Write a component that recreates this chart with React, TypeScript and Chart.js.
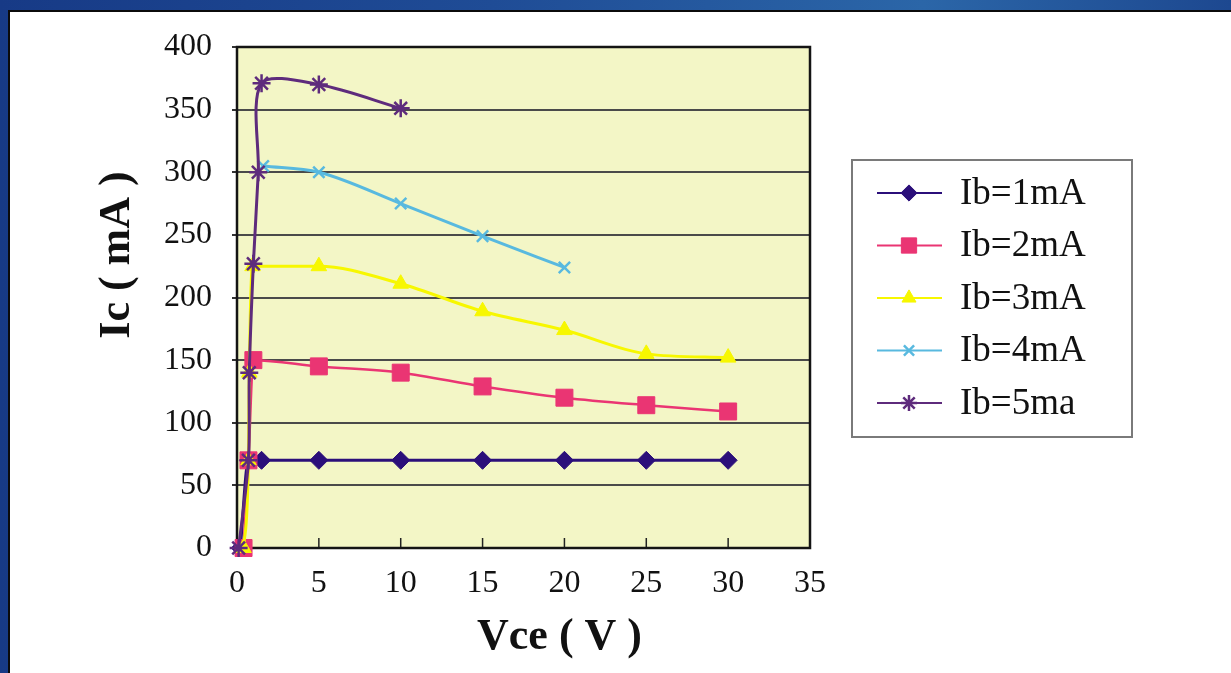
import React, { useEffect, useRef } from "react";
import { Chart, registerables } from "chart.js";
import { drawPoint } from "chart.js/helpers";

Chart.register(...registerables);

// ---- data ----
const seriesNames = ["Ib=1mA", "Ib=2mA", "Ib=3mA", "Ib=4mA", "Ib=5ma"];
const ib1Vce = [0.2, 0.7, 1.5, 5, 10, 15, 20, 25, 30];
const ib1Ic = [0, 70, 70, 70, 70, 70, 70, 70, 70];
const ib2Vce = [0.4, 0.7, 1.0, 5, 10, 15, 20, 25, 30];
const ib2Ic = [0, 70, 150, 145, 140, 129, 120, 114, 109];
const ib3Vce = [0.4, 0.7, 0.75, 0.95, 5, 10, 15, 20, 25, 30];
const ib3Ic = [0, 70, 140, 225, 225, 211, 189, 174, 155, 152];
const ib4Vce = [1.6, 5, 10, 15, 20];
const ib4Ic = [305, 300, 275, 249, 224];
const ib5Vce = [0.1, 0.7, 0.75, 1.0, 1.3, 1.5, 5, 10];
const ib5Ic = [0, 70, 140, 227, 300, 371, 370, 351];
const xTicks = [0, 5, 10, 15, 20, 25, 30, 35];
const yTicks = [0, 50, 100, 150, 200, 250, 300, 350, 400];

const xsList = [ib1Vce, ib2Vce, ib3Vce, ib4Vce, ib5Vce];
const ysList = [ib1Ic, ib2Ic, ib3Ic, ib4Ic, ib5Ic];

const colors = ["#2b0f7a", "#ea3573", "#f7f700", "#58b9df", "#5e2b7c"];
const pointStyles = ["rectRot", "rect", "triangle", "crossRot", "star"];
const pointRadii = [9, 12, 9, 8, 9];
const lineWidths = [3, 2.5, 3, 3, 3];
const pointBorderWidths = [1, 1, 1, 2.5, 2.5];
const interpModes = ["monotone", "monotone", "monotone", "monotone", "default"];
const tensions = [0.4, 0.4, 0.4, 0.4, 0.3];

const FONT = "'Liberation Serif', 'Times New Roman', serif";

const decoPlugin = {
  id: "deco",
  beforeDraw(chart: any) {
    const { ctx, chartArea: a } = chart;
    ctx.save();
    ctx.fillStyle = "#f3f6c6";
    ctx.fillRect(a.left, a.top, a.right - a.left, a.bottom - a.top);
    ctx.restore();
  },
  beforeDatasetsDraw(chart: any) {
    const { ctx, chartArea: a, scales } = chart;
    const xs = scales.x;
    ctx.save();
    ctx.strokeStyle = "#222";
    ctx.lineWidth = 1.5;
    xs.ticks.forEach((t: any) => {
      const px = xs.getPixelForValue(t.value);
      ctx.beginPath();
      ctx.moveTo(px, a.bottom);
      ctx.lineTo(px, a.bottom - 10);
      ctx.stroke();
    });
    ctx.strokeStyle = "#141414";
    ctx.lineWidth = 2.5;
    ctx.strokeRect(a.left, a.top, a.right - a.left, a.bottom - a.top);
    ctx.restore();
  },
  afterDraw(chart: any) {
    const { ctx, chartArea: a } = chart;
    ctx.save();
    // axis titles
    ctx.fillStyle = "#111";
    ctx.font = `bold 44px ${FONT}`;
    ctx.textAlign = "center";
    ctx.textBaseline = "middle";
    ctx.fillText("Vce ( V )", (a.left + a.right) / 2 + 36, a.bottom + 90);
    ctx.save();
    ctx.translate(118, 255);
    ctx.rotate(-Math.PI / 2);
    ctx.fillText("Ic ( mA )", 0, 0);
    ctx.restore();

    // legend
    const lx = 852, ly = 160, lw = 280, lh = 277;
    ctx.fillStyle = "#fff";
    ctx.fillRect(lx, ly, lw, lh);
    ctx.strokeStyle = "#7a7a7a";
    ctx.lineWidth = 2;
    ctx.strokeRect(lx, ly, lw, lh);
    chart.data.datasets.forEach((ds: any, i: number) => {
      const y = 193 + i * 52.5;
      ctx.strokeStyle = ds.borderColor;
      ctx.lineWidth = 2;
      ctx.beginPath();
      ctx.moveTo(877, y);
      ctx.lineTo(942, y);
      ctx.stroke();
      ctx.fillStyle = ds.pointBackgroundColor;
      ctx.strokeStyle = ds.pointBorderColor;
      ctx.lineWidth = ds.pointBorderWidth;
      drawPoint(
        ctx,
        { pointStyle: ds.pointStyle, rotation: 0, radius: ds.pointRadius * 0.9, borderWidth: ds.pointBorderWidth } as any,
        909,
        y
      );
      ctx.fillStyle = "#111";
      ctx.font = `37px ${FONT}`;
      ctx.textAlign = "left";
      ctx.textBaseline = "middle";
      ctx.fillText(ds.label, 960, y + 1);
    });
    ctx.restore();
  },
};

export default function App() {
  const ref = useRef<HTMLCanvasElement>(null);
  useEffect(() => {
    const datasets = seriesNames.map((name, i) => ({
      label: name,
      data: xsList[i].map((x, j) => ({ x, y: ysList[i][j] })),
      borderColor: colors[i],
      backgroundColor: colors[i],
      pointBackgroundColor: colors[i],
      pointBorderColor: colors[i],
      pointStyle: pointStyles[i],
      pointRadius: pointRadii[i],
      pointBorderWidth: pointBorderWidths[i],
      borderWidth: lineWidths[i],
      showLine: true,
      tension: tensions[i],
      cubicInterpolationMode: interpModes[i],
      clip: false as any,
      order: 5 - i,
    }));
    const chart = new Chart(ref.current!, {
      type: "scatter",
      data: { datasets } as any,
      plugins: [decoPlugin],
      options: {
        animation: false,
        responsive: false,
        events: [],
        layout: { padding: { left: 0, top: 47, right: 421, bottom: 0 } },
        plugins: { legend: { display: false }, tooltip: { enabled: false } },
        scales: {
          x: {
            type: "linear",
            min: 0,
            max: 35,
            afterBuildTicks: (s: any) => {
              s.ticks = xTicks.map((v) => ({ value: v }));
            },
            afterFit: (s: any) => {
              s.height = 125;
            },
            grid: { display: false, drawTicks: false },
            border: { display: false },
            ticks: { padding: 16, color: "#111", font: { family: FONT, size: 32 }, maxRotation: 0 },
          },
          y: {
            type: "linear",
            min: 0,
            max: 400,
            afterBuildTicks: (s: any) => {
              s.ticks = yTicks.map((v) => ({ value: v }));
            },
            afterFit: (s: any) => {
              s.width = 237;
            },
            grid: { color: "#4a4a4a", lineWidth: 2, drawTicks: true, tickLength: 5, tickColor: "#333" },
            border: { display: false },
            ticks: { padding: 20, color: "#111", font: { family: FONT, size: 32 } },
          },
        },
      } as any,
    });
    return () => chart.destroy();
  }, []);
  return (
    <div
      style={{
        position: "fixed",
        left: 0,
        top: 0,
        width: 1231,
        height: 673,
        overflow: "hidden",
        background: "linear-gradient(90deg,#173a86 0%,#1f4c96 40%,#2b66a8 75%,#1d4890 100%)",
      }}
    >
      <div
        style={{
          position: "absolute",
          left: 8,
          top: 10,
          right: 0,
          bottom: 0,
          background: "#fff",
          borderLeft: "2px solid #0b0b0b",
          borderTop: "2px solid #0b0b0b",
        }}
      />
      <canvas
        ref={ref}
        width={1231}
        height={673}
        style={{ position: "absolute", left: 0, top: 0, width: 1231, height: 673 }}
      />
    </div>
  );
}
